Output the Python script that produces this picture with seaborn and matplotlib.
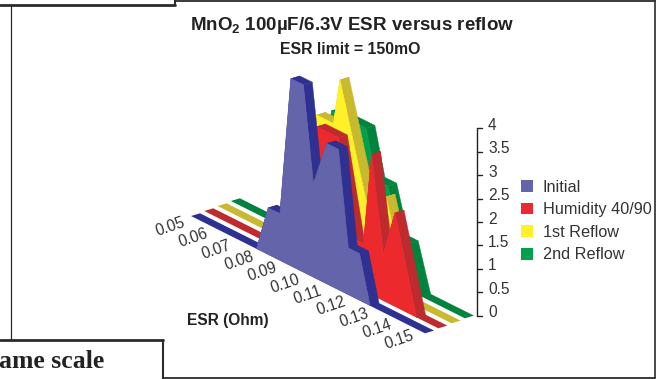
import matplotlib
matplotlib.use("Agg")
import matplotlib.pyplot as plt
from matplotlib.patches import Patch, Polygon
import numpy as np
import pandas as pd
import seaborn as sns

# ====================== Data ======================
esr_labels = ['0.05', '0.06', '0.07', '0.08', '0.09', '0.10', '0.11', '0.12', '0.13', '0.14', '0.15']
value_ticks = [0, 0.5, 1, 1.5, 2, 2.5, 3, 3.5, 4]
value_labels = ['0', '0.5', '1', '1.5', '2', '2.5', '3', '3.5', '4']
series_names = ['Initial', 'Humidity 40/90', '1st Reflow', '2nd Reflow']

initial_esr = [0.078, 0.083, 0.088, 0.0927, 0.098, 0.1023, 0.108, 0.113, 0.1172, 0.122, 0.1265]
initial_val = [0, 1, 1, 4, 4, 2, 3, 3, 1, 1, 0]
humidity_esr = [0.083, 0.090, 0.098, 0.1073, 0.1144, 0.118, 0.1215, 0.1265, 0.1315, 0.1407]
humidity_val = [0, 1, 3, 3, 1, 1, 3, 1, 2, 0]
reflow1_esr = [0.085, 0.0875, 0.0923, 0.0995, 0.1023, 0.112, 0.117, 0.122, 0.127, 0.132]
reflow1_val = [0, 1, 3, 3, 4, 2, 1, 2, 1, 0]
reflow2_esr = [0.083, 0.088, 0.093, 0.1077, 0.112, 0.117, 0.122, 0.1262, 0.1315]
reflow2_val = [0, 1, 3, 3, 2, 2, 1, 1, 0]

front_colors = ['#6464AB', '#EC2A2E', '#FFF02A', '#00A04F']
side_colors = ['#2E3192', '#BE2A2E', '#C9B92F', '#00843D']

df = pd.concat([
    pd.DataFrame({'series': name, 'depth': d, 'esr': e, 'value': v})
    for d, (name, e, v) in enumerate(zip(
        series_names,
        [initial_esr, humidity_esr, reflow1_esr, reflow2_esr],
        [initial_val, humidity_val, reflow1_val, reflow2_val]))
])

# ====================== Oblique projection, in figure pixels ======================
X0, Y0 = 191.0, 216.0
STEP_X, STEP_Y = 23.4, 11.73   # per 0.01 Ohm
ROW_X, ROW_Y = 13.3, -5.0      # per series
WALL_X, WALL_Y = 9.0, -2.7     # thickness of a ribbon
UNIT = 46.85                   # per unit of value


def project(esr, value, depth):
    i = (np.asarray(esr) - 0.05) / 0.01
    x = X0 + i * STEP_X + depth * ROW_X
    y = Y0 + i * STEP_Y + depth * ROW_Y - np.asarray(value) * UNIT
    return x, y


df['sx'], df['sy'] = project(df['esr'], df['value'], df['depth'])

# ====================== Canvas ======================
sns.set_theme(style='white')
plt.rcParams['font.family'] = ['Liberation Sans', 'DejaVu Sans']
plt.rcParams['mathtext.fontset'] = 'custom'
plt.rcParams['mathtext.bf'] = 'Liberation Sans:bold'
plt.rcParams['mathtext.rm'] = 'Liberation Sans'

fig = plt.figure(figsize=(6.62, 3.79), dpi=100)
ax = fig.add_axes([0, 0, 1, 1])
ax.set_xlim(0, 662)
ax.set_ylim(379, 0)
ax.axis('off')

# ====================== Ribbons, back to front ======================
for depth in [3, 2, 1, 0]:
    sub = df[df['depth'] == depth]
    z = 10 + (3 - depth) * 5
    fx, fy = project([0.05, 0.15], [0, 0], depth)
    ax.add_patch(Polygon([(fx[0], fy[0]), (fx[1], fy[1]),
                          (fx[1] + WALL_X, fy[1] + WALL_Y), (fx[0] + WALL_X, fy[0] + WALL_Y)],
                         closed=True, fc=side_colors[depth], ec='none', zorder=z))
    xs, ys = sub['sx'].values, sub['sy'].values
    for k in range(len(xs) - 1):
        ax.add_patch(Polygon([(xs[k], ys[k]), (xs[k + 1], ys[k + 1]),
                              (xs[k + 1] + WALL_X, ys[k + 1] + WALL_Y), (xs[k] + WALL_X, ys[k] + WALL_Y)],
                             closed=True, fc=side_colors[depth], ec=side_colors[depth], lw=0.3, zorder=z + 1))
    ax.fill(xs, ys, color=front_colors[depth], lw=0, zorder=z + 2)
    sns.lineplot(data=sub, x='sx', y='sy', sort=False, estimator=None,
                 color=front_colors[depth], lw=0.5, legend=False, ax=ax, zorder=z + 3)
ax.set_xlim(0, 662)
ax.set_ylim(379, 0)
ax.axis('off')

# ====================== Category labels along the front edge ======================
for i, lab in enumerate(esr_labels):
    ax.text(170.5 + i * 22.9, 227 + i * 11.3, lab, fontsize=11.2, color='#333333',
            rotation=19, rotation_mode='anchor', ha='center', va='center')
ax.text(228, 320, 'ESR (Ohm)', fontsize=11.2, fontweight='bold', color='#222222', ha='center', va='center')

# ====================== Value axis ======================
AXIS_X = 477
AXIS_ZERO = 315.7
tick_y = [AXIS_ZERO - t * UNIT for t in value_ticks]
ax.plot([AXIS_X, AXIS_X], [tick_y[0], tick_y[-1]], color='#222222', lw=1.0)
for y, lab in zip(tick_y, value_labels):
    ax.plot([AXIS_X, AXIS_X + 5], [y, y], color='#222222', lw=1.0)
    ax.text(488, y - 3, lab, fontsize=11.2, color='#333333', ha='left', va='center')

# ====================== Titles ======================
ax.text(352, 26, r'MnO$_{\mathbf{2}}$ 100µF/6.3V ESR versus reflow', fontsize=13.5, fontweight='bold',
        color='#222222', ha='center', va='center')
ax.text(350, 49.5, 'ESR limit = 150mO', fontsize=11.4, fontweight='bold', color='#222222', ha='center', va='center')

# ====================== Legend ======================
handles = [Patch(facecolor=c, edgecolor='none', label=n) for c, n in zip(front_colors, series_names)]
leg = ax.legend(handles=handles, loc='upper left', bbox_to_anchor=(521 / 662, 1 - 179.5 / 379),
                frameon=False, fontsize=11.7, labelcolor='#333333', handlelength=0.72, handleheight=0.72,
                handletextpad=0.62, labelspacing=0.47, borderpad=0, borderaxespad=0)

# ====================== Page frame around the figure ======================
frame = '#2b2b2b'
ax.plot([0, 175], [4.5, 4.5], color=frame, lw=2.0)
ax.plot([175, 175], [0, 5], color=frame, lw=1.5)
ax.plot([175, 655], [1, 1], color=frame, lw=1.3)
ax.plot([655, 655], [0, 378], color=frame, lw=1.2)
ax.plot([11, 11], [5, 340], color=frame, lw=0.9)
ax.plot([0, 163], [340, 340], color=frame, lw=2.0)
ax.plot([163, 163], [340, 379], color=frame, lw=1.5)
ax.plot([163, 655], [378, 378], color=frame, lw=1.3)
ax.text(-1, 368, 'ame scale', fontsize=18.5, fontweight='bold', family='Liberation Serif',
        color='#222222', ha='left', va='baseline')

fig.savefig('out.png', dpi=100)
